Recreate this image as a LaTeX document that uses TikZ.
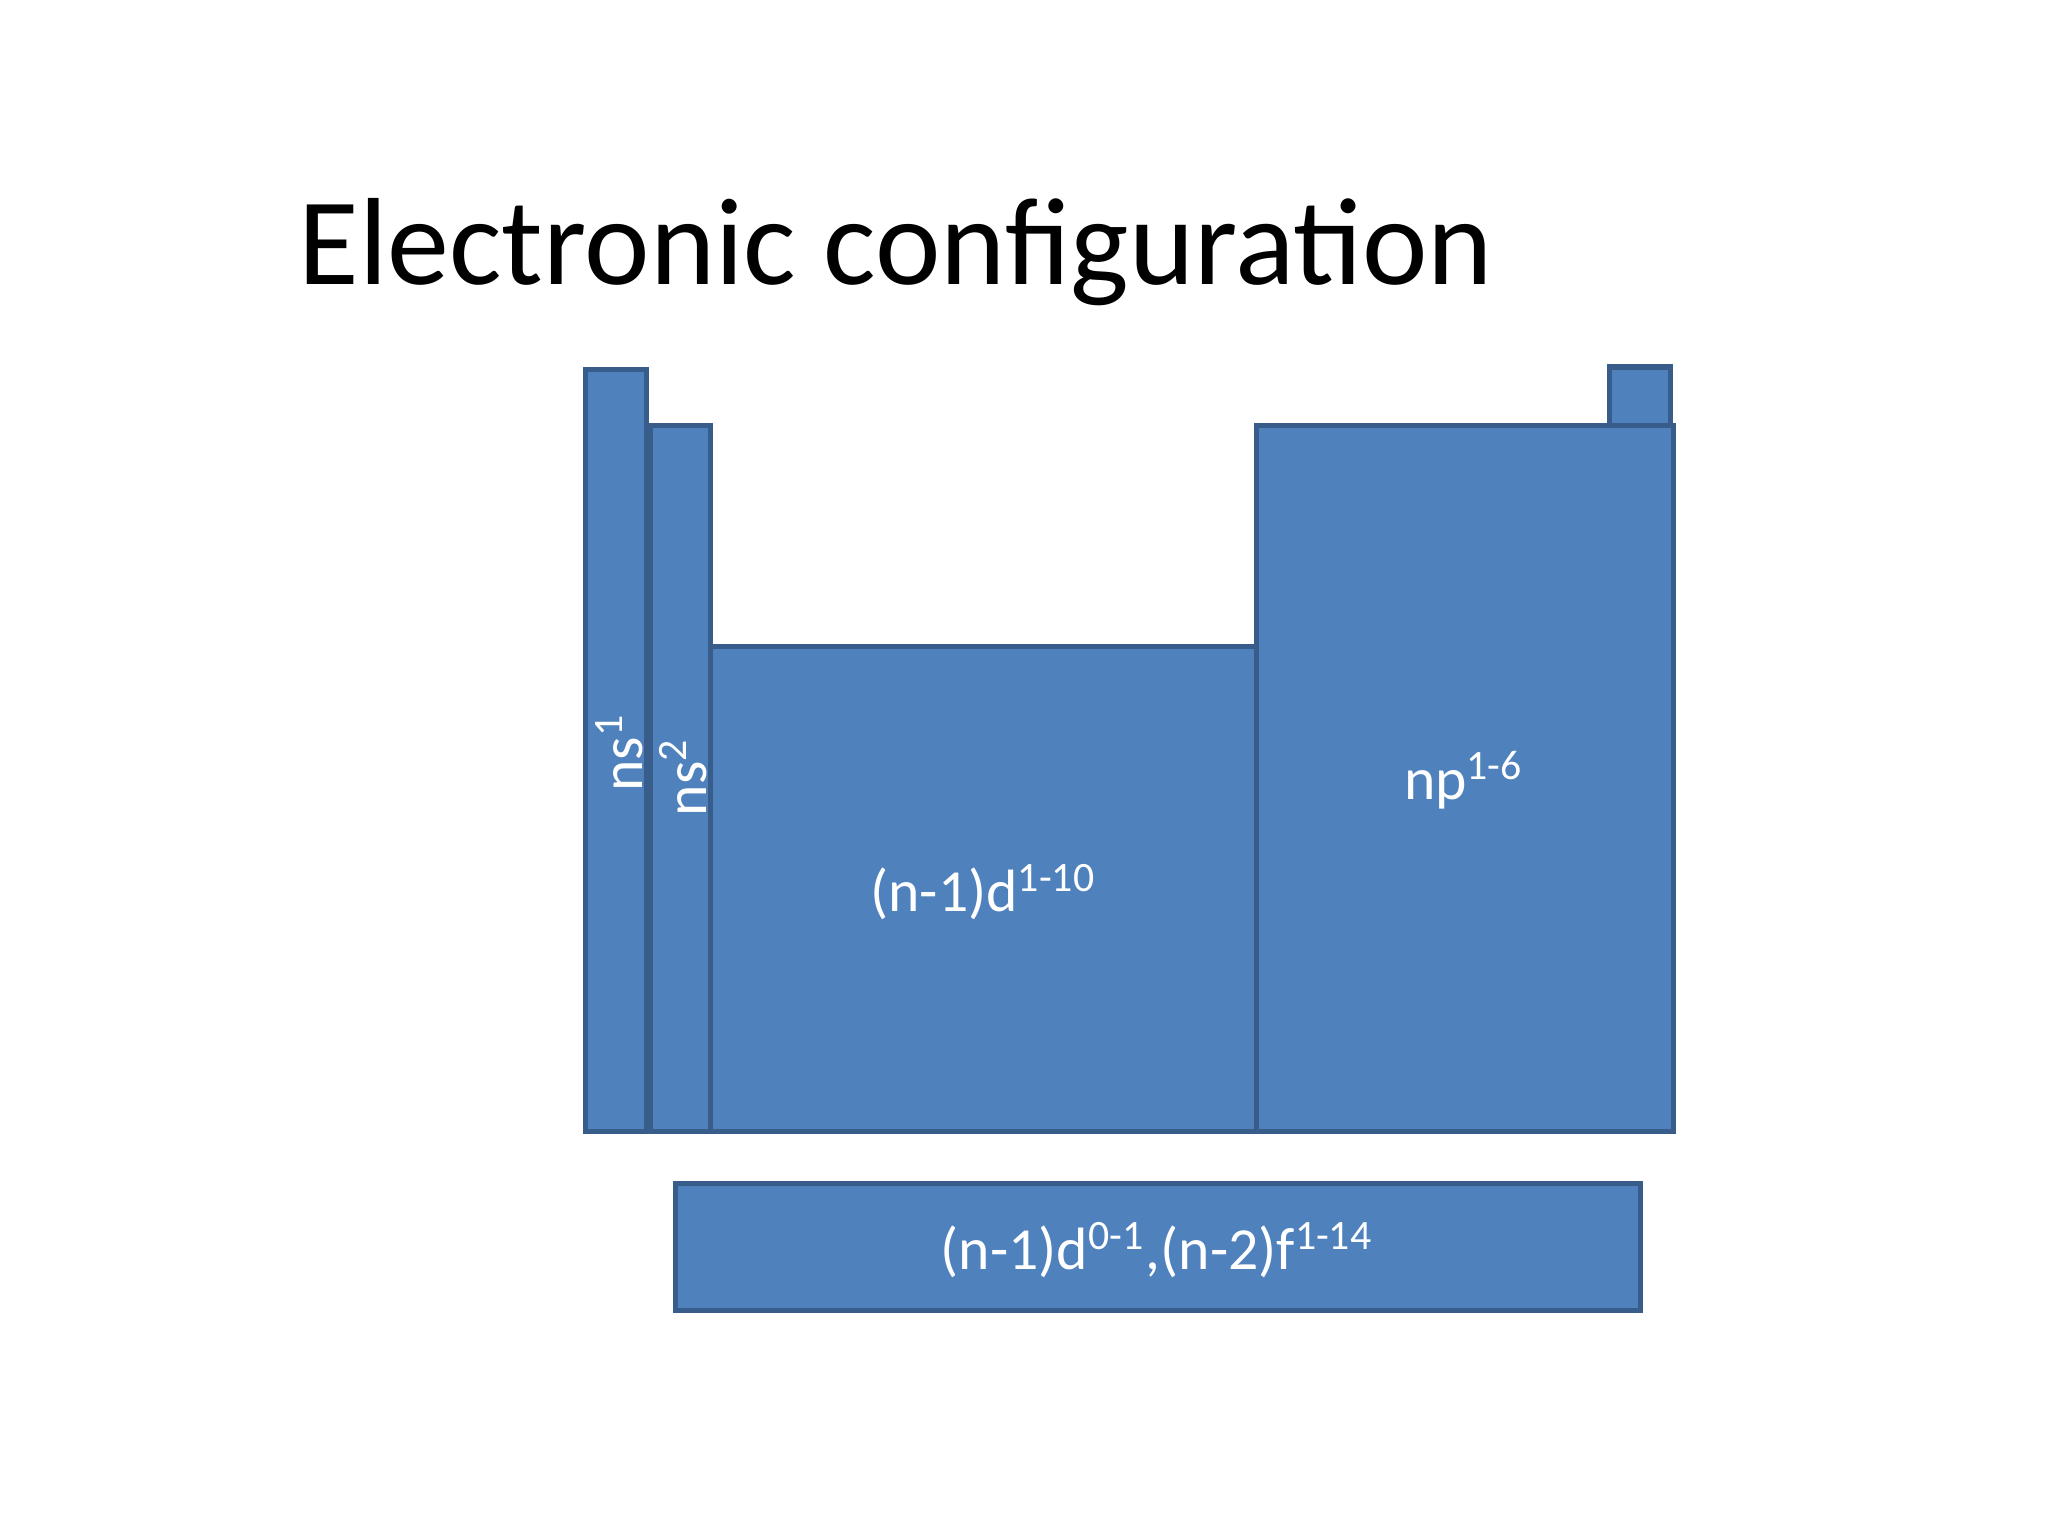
\documentclass[tikz,border=0pt]{standalone}
\usepackage{fontspec}
\setmainfont{Carlito}
\begin{document}
\begin{tikzpicture}[x=0.01cm,y=-0.01cm,
  blk/.style={draw=bdr,fill=blu,line width=1.1pt},
  lbl/.style={text=white,font=\fontsize{13}{15}\selectfont,inner sep=0pt}]
\definecolor{blu}{HTML}{4F81BD}
\definecolor{bdr}{HTML}{385D8A}
\useasboundingbox (0,0) rectangle (1568,1176);
\fill[white] (0,0) rectangle (1568,1176);
\node[anchor=base west,inner sep=0pt,font=\fontsize{27}{32}\selectfont] (title) at (228,218) {Electronic configuration};
\draw[blk] (448,283) rectangle (495,866) coordinate (s1b);
\draw[blk] (498,326) rectangle (544,866);
\draw[blk] (544,495) rectangle (962,866);
\draw[blk] (962,326) rectangle (1281,866);
\draw[blk] (1232,281) rectangle (1279,326);
\draw[blk] (517,906) rectangle (1256,1003);
\node[lbl,rotate=90] (ns1) at (474,576) {ns\textsuperscript{1}};
\node[lbl,rotate=90] (ns2) at (523,595) {ns\textsuperscript{2}};
\node[lbl] (d) at (753,683) {(n-1)d\textsuperscript{1-10}};
\node[lbl] (p) at (1121,597) {np\textsuperscript{1-6}};
\node[lbl] (f) at (886,957) {(n-1)d\textsuperscript{0-1},(n-2)f\textsuperscript{1-14}};
\end{tikzpicture}
\end{document}
